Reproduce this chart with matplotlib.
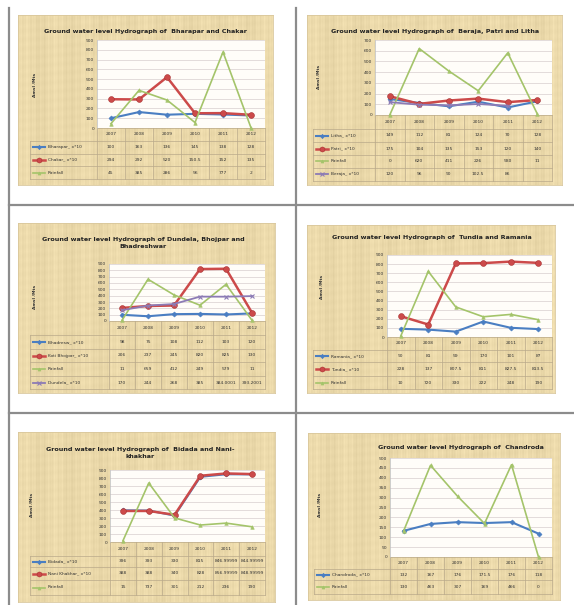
import numpy as np
import matplotlib
matplotlib.use('Agg')
import matplotlib.pyplot as plt
from matplotlib.lines import Line2D

# ---------------- data ----------------
years = ['2007', '2008', '2009', '2010', '2011', '2012']

p1_bharapar = [100, 163, 136, 145, 138, 128]
p1_chakar = [294, 292, 520, 150.5, 152, 135]
p1_rain = [45, 385, 286, 56, 777, 2]

p2_litha = [149, 112, 81, 124, 70, 128]
p2_patri = [175, 104, 135, 153, 120, 140]
p2_rain = [0, 620, 411, 226, 580, 11]
p2_beraja = [120, 96, 90, 102.5, 86, np.nan]

p3_bhadreshwar = [98, 75, 108, 112, 103, 120]
p3_kotibhojpar = [206, 237, 245, 820, 825, 130]
p3_rain = [11, 659, 412, 249, 579, 11]
p3_dundela = [170, 244, 268, 385, 384.0001, 393.2001]

p4_ramania = [90, 81, 59, 170, 101, 87]
p4_tundia = [228, 137, 807.5, 811, 827.5, 813.5]
p4_rain = [10, 720, 330, 222, 248, 190]

p5_bidada = [396, 393, 330, 815, 846.99999, 844.99999]
p5_nanikhakhar = [388, 388, 340, 828, 856.99999, 848.99999]
p5_rain = [15, 737, 301, 212, 236, 190]

p6_chandroda = [132, 167, 176, 171.5, 176, 118]
p6_rain = [130, 463, 307, 169, 466, 0]

# ---------------- styles ----------------
BLUE = ('#4A7EC2', 'D', 2.6, 1.5)
RED = ('#CC4A4A', 'o', 4.2, 1.8)
GREEN = ('#A4C46A', '^', 2.6, 1.2)
PURPLE = ('#8C7BB5', 'x', 2.6, 1.3)

W, H = 574, 605
fig = plt.figure(figsize=(W / 100, H / 100), dpi=100)
fig.patch.set_facecolor('white')


def fx(x):
    return x / W


def fy(y):
    return 1 - y / H


def fline(x0, y0, x1, y1, **kw):
    fig.add_artist(Line2D([fx(x0), fx(x1)], [fy(y0), fy(y1)],
                          transform=fig.transFigure, **kw))


def fmt(v):
    if v is None or (isinstance(v, float) and np.isnan(v)):
        return ''
    if float(v).is_integer():
        return str(int(v))
    return '%.8g' % v


# page separators
SEP = dict(color='#8c8c8c', lw=1.6)
fline(9, 8, 9, 605, **SEP)
fline(296, 8, 296, 605, **SEP)
fline(9, 205, 574, 205, **SEP)
fline(9, 413, 574, 413, **SEP)


def texture(w, h):
    xs = np.arange(w)[None, :]
    ys = np.arange(h)[:, None]
    base = np.array([235, 217, 170]) / 255.0
    v = (0.012 * np.sin(xs * 0.9) + 0.01 * np.sin(xs * 2.3 + 1.0)
         + 0.012 * np.sin(xs * 0.21) + 0.006 * np.sin(ys * 0.7 + xs * 0.05))
    arr = np.clip(base[None, None, :] + v[..., None], 0, 1)
    return arr


def panel(box, plot, title, title_cx, title_y, ylab_xy, yticks, rows,
          row_edges, tab_left):
    bx0, by0, bx1, by1 = box
    bg = fig.add_axes([fx(bx0), fy(by1), (bx1 - bx0) / W, (by1 - by0) / H],
                      zorder=-1)
    bg.imshow(texture(int(bx1 - bx0), int(by1 - by0)), aspect='auto',
              interpolation='bilinear')
    bg.set_xticks([])
    bg.set_yticks([])
    for s in bg.spines.values():
        s.set_color('#d9c79c')
        s.set_linewidth(0.6)

    px0, py0, px1, py1 = plot
    ax = fig.add_axes([fx(px0), fy(py1), (px1 - px0) / W, (py1 - py0) / H],
                      zorder=2)
    ax.set_facecolor('#FFFDF9')
    x = np.arange(6) + 0.5
    for label, vals, (c, m, ms, lw) in rows:
        ax.plot(x, vals, color=c, marker=m, markersize=ms, lw=lw,
                markeredgewidth=0.8 if m == 'x' else 0.4,
                markeredgecolor=c if m != 'o' else '#A83030',
                clip_on=False, zorder=3)
    ax.set_xlim(0, 6)
    ax.set_ylim(0, yticks[-1])
    ax.set_yticks(yticks)
    ax.set_yticklabels([str(t) for t in yticks])
    ax.set_xticks([])
    ax.yaxis.grid(True, color='#d8cfcf', lw=0.5)
    ax.set_axisbelow(True)
    ax.tick_params(axis='y', length=0, labelsize=3.2, pad=2, colors='#333333')
    for k, s in ax.spines.items():
        s.set_visible(k == 'left')
        s.set_color('#bbbbbb')
        s.set_linewidth(0.5)

    fig.text(fx(title_cx), fy(title_y), title, ha='center', va='center',
             fontsize=4.6, fontweight='bold', color='#222222',
             linespacing=1.25)
    fig.text(fx(ylab_xy[0]), fy(ylab_xy[1]), 'Amsl /Mts', rotation=90,
             ha='center', va='center', fontsize=3.2, fontweight='bold',
             color='#333333')

    # data table
    TL = dict(color='#b9a98a', lw=0.5)
    colw = (px1 - px0) / 6
    for i in range(7):
        fline(px0 + i * colw, row_edges[0], px0 + i * colw, row_edges[-1], **TL)
    fline(px0, row_edges[0], px1, row_edges[0], **TL)
    for e in row_edges[1:]:
        fline(tab_left, e, px1, e, **TL)
    fline(tab_left, row_edges[1], tab_left, row_edges[-1], **TL)
    hy = (row_edges[0] + row_edges[1]) / 2
    for i, yr in enumerate(years):
        fig.text(fx(px0 + (i + 0.5) * colw), fy(hy), yr, ha='center',
                 va='center', fontsize=3.2, color='#333333')
    for r, (label, vals, (c, m, ms, lw)) in enumerate(rows):
        cy = (row_edges[r + 1] + row_edges[r + 2]) / 2
        fline(tab_left + 3, cy, tab_left + 15, cy, color=c, lw=lw)
        fig.add_artist(Line2D([fx(tab_left + 9)], [fy(cy)], marker=m,
                              markersize=ms * 0.85, color=c,
                              markeredgewidth=0.8 if m == 'x' else 0.4,
                              markeredgecolor=c if m != 'o' else '#A83030',
                              transform=fig.transFigure))
        fig.text(fx(tab_left + 18), fy(cy), label, ha='left', va='center',
                 fontsize=3.2, color='#333333')
        for i, v in enumerate(vals):
            fig.text(fx(px0 + (i + 0.5) * colw), fy(cy), fmt(v), ha='center',
                     va='center', fontsize=3.2, color='#333333')


# Panel 1
panel(box=(18, 15, 273, 185), plot=(97, 40, 265, 128),
      title='Ground water level Hydrograph of  Bharapar and Chakar',
      title_cx=145, title_y=32, ylab_xy=(35, 85),
      yticks=list(range(0, 1000, 100)),
      rows=[('Bharapar_ x*10', p1_bharapar, BLUE),
            ('Chakar_ x*10', p1_chakar, RED),
            ('Rainfall', p1_rain, GREEN)],
      row_edges=[128, 141, 153.5, 166, 179], tab_left=30)

# Panel 2
panel(box=(307, 15, 562, 185), plot=(375, 40, 552, 115),
      title='Ground water level Hydrograph of  Beraja, Patri and Litha',
      title_cx=435, title_y=32, ylab_xy=(319, 77),
      yticks=list(range(0, 800, 100)),
      rows=[('Litha_ x*10', p2_litha, BLUE),
            ('Patri_ x*10', p2_patri, RED),
            ('Rainfall', p2_rain, GREEN),
            ('Beraja_ x*10', p2_beraja, PURPLE)],
      row_edges=[115, 129, 142, 155, 168, 181], tab_left=313)

# Panel 3
panel(box=(18, 223, 275, 393), plot=(109, 264, 265, 321),
      title='Ground water level Hydrograph of Dundela, Bhojpar and\nBhadreshwar',
      title_cx=143, title_y=243, ylab_xy=(35, 297),
      yticks=list(range(0, 1000, 100)),
      rows=[('Bhadresw_ x*10', p3_bhadreshwar, BLUE),
            ('Koti Bhojpar_ x*10', p3_kotibhojpar, RED),
            ('Rainfall', p3_rain, GREEN),
            ('Dundela_ x*10', p3_dundela, PURPLE)],
      row_edges=[321, 335, 349, 362, 376, 389], tab_left=30)

# Panel 4
panel(box=(307, 225, 555, 393), plot=(387, 255, 552, 337),
      title='Ground water level Hydrograph of  Tundia and Ramania',
      title_cx=432, title_y=238, ylab_xy=(322, 287),
      yticks=list(range(0, 1000, 100)),
      rows=[('Ramania_ x*10', p4_ramania, BLUE),
            ('Tundia_ x*10', p4_tundia, RED),
            ('Rainfall', p4_rain, GREEN)],
      row_edges=[337, 350, 362, 376, 389], tab_left=313)

# Panel 5
panel(box=(18, 432, 275, 602), plot=(110, 470, 265, 542),
      title='Ground water level Hydrograph of  Bidada and Nani-\nkhakhar',
      title_cx=140, title_y=453, ylab_xy=(32, 505),
      yticks=list(range(0, 1000, 100)),
      rows=[('Bidada_ x*10', p5_bidada, BLUE),
            ('Nani Khakhar_ x*10', p5_nanikhakhar, RED),
            ('Rainfall', p5_rain, GREEN)],
      row_edges=[542, 556, 567, 580, 595], tab_left=30)

# Panel 6
panel(box=(308, 433, 560, 600), plot=(390, 458, 552, 557),
      title='Ground water level Hydrograph of  Chandroda',
      title_cx=461, title_y=447, ylab_xy=(320, 505),
      yticks=list(range(0, 550, 50)),
      rows=[('Chandroda_ x*10', p6_chandroda, BLUE),
            ('Rainfall', p6_rain, GREEN)],
      row_edges=[557, 569, 580, 594], tab_left=314)

fig.savefig('out.png', dpi=100, facecolor='white')
